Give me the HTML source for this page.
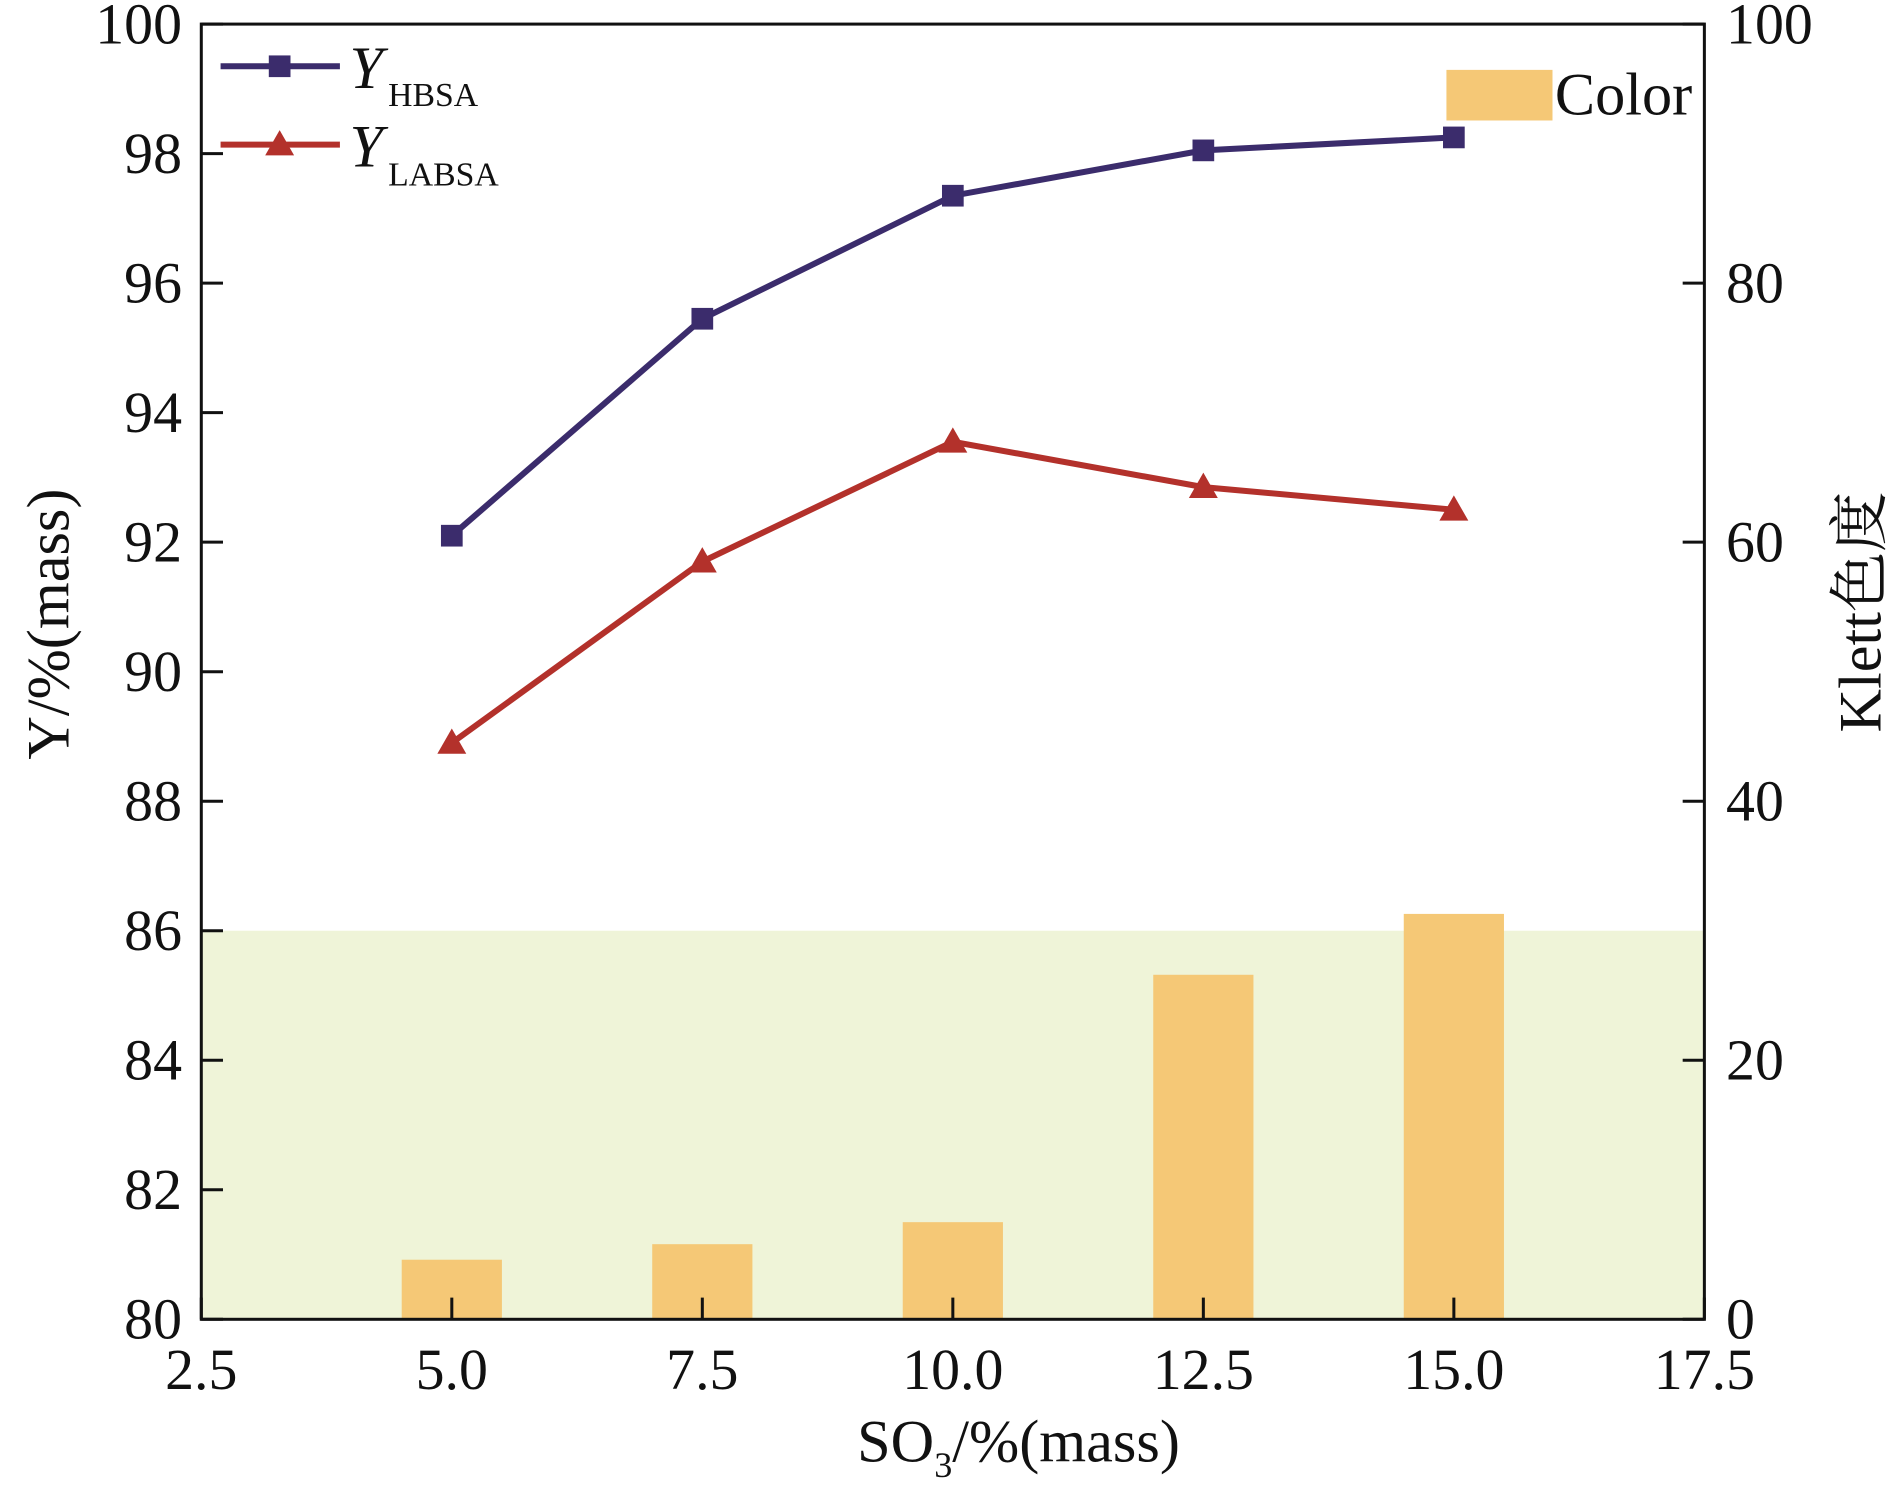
<!DOCTYPE html>
<html><head><meta charset="utf-8"><style>
html,body{margin:0;padding:0;background:#fff;}
svg{display:block;}
text{font-family:"Liberation Serif","Noto Serif CJK SC",serif;fill:#111;}
</style></head><body>
<svg id="chart" width="1890" height="1494" viewBox="0 0 1568 1240" preserveAspectRatio="none" xmlns="http://www.w3.org/2000/svg">
<g id="band"></g><g id="bars"></g><g id="lines"></g><g id="axes"></g><g id="legend"></g>
</svg>
<script>
const categories=[5.0,7.5,10.0,12.5,15.0];
const hbsa=[92.1,95.45,97.35,98.05,98.25];
const labsa=[88.9,91.7,93.55,92.85,92.5];
const color=[4.6,5.8,7.5,26.6,31.3];
const xTicks=[2.5,5.0,7.5,10.0,12.5,15.0,17.5];
const yTicks=[80,82,84,86,88,90,92,94,96,98,100];
const y2Ticks=[0,20,40,60,80,100];
const bandTop=30;
const L=167,R=1414,T=20,B=1095;
const NS="http://www.w3.org/2000/svg";
const X=v=>L+(v-2.5)/15*(R-L);
const Y=v=>B-(v-80)/20*(B-T);
const Y2=v=>B-v/100*(B-T);
function mk(tag,attrs,parent,txt){const e=document.createElementNS(NS,tag);for(const k in attrs)e.setAttribute(k,attrs[k]);if(txt!==undefined)e.textContent=txt;document.getElementById(parent).appendChild(e);return e;}
let e=mk('rect',{x:L,y:Y2(bandTop),width:R-L,height:B-Y2(bandTop),fill:'#eff4d8'},'band');


const bw=X(1)-X(0);
categories.forEach((c,i)=>{const b=mk('rect',{x:X(c)-bw/2,y:Y2(color[i]),width:bw,height:B-Y2(color[i]),fill:'#f5c876'},'bars');

});
function series(vals,col,name,marker){
const pts=categories.map((c,i)=>X(c)+','+Y(vals[i])).join(' ');
const p=mk('polyline',{points:pts,fill:'none',stroke:col,'stroke-width':5},'lines');


categories.forEach((c,i)=>{const x=X(c),y=Y(vals[i]);let m;
if(marker==='s')m=mk('rect',{x:x-9,y:y-9,width:18,height:18,fill:col},'lines');
else m=mk('polygon',{points:`${x},${y-12} ${x-12},${y+9} ${x+12},${y+9}`,fill:col},'lines');

});}
series(hbsa,'#3b2c6c','hbsa','s');
series(labsa,'#b3312b','labsa','t');
e=mk('rect',{x:L,y:T,width:R-L,height:B-T,fill:'none',stroke:'#111','stroke-width':2.5},'axes');


yTicks.forEach(v=>{mk('line',{x1:L,x2:L+18,y1:Y(v),y2:Y(v),stroke:'#111','stroke-width':2.5},'axes');
const t=mk('text',{x:L-16,y:Y(v)+16,'text-anchor':'end','font-size':48},'axes',String(v));

});
y2Ticks.forEach(v=>{mk('line',{x1:R-18,x2:R,y1:Y2(v),y2:Y2(v),stroke:'#111','stroke-width':2.5},'axes');
const t=mk('text',{x:R+18,y:Y2(v)+16,'font-size':48},'axes',String(v));

});
xTicks.forEach(v=>{mk('line',{x1:X(v),x2:X(v),y1:B,y2:B-18,stroke:'#111','stroke-width':2.5},'axes');
const t=mk('text',{x:X(v),y:B+58,'text-anchor':'middle','font-size':48},'axes',v.toFixed(1));

});
</script>
<script>
(function(){
const lg=document.getElementById('legend');
lg.innerHTML=`
<g><line x1="183" x2="282" y1="55" y2="55" stroke="#3b2c6c" stroke-width="5"/><rect x="223" y="46" width="18" height="18" fill="#3b2c6c"/><text x="290" y="73" font-size="50" font-style="italic">Y</text><text x="322" y="88" font-size="28">HBSA</text></g>
<g><line x1="183" x2="282" y1="120" y2="120" stroke="#b3312b" stroke-width="5"/><polygon points="232,108 220,129 244,129" fill="#b3312b"/><text x="290" y="138" font-size="50" font-style="italic">Y</text><text x="322" y="154" font-size="28">LABSA</text></g>
<g><rect x="1200" y="58" width="88" height="42" fill="#f5c876"/><text x="1290" y="95" font-size="50">Color</text></g>
<text transform="translate(57,518) rotate(-90)" text-anchor="middle" font-size="50">Y/%(mass)</text>
<text transform="translate(1560,508) rotate(-90)" text-anchor="middle" font-size="50">Klett色度</text>
<text x="845" y="1213" text-anchor="middle" font-size="50">SO<tspan font-size="30" dy="13">3</tspan><tspan dy="-13">/%(mass)</tspan></text>`;
})();
</script>
</body></html>
